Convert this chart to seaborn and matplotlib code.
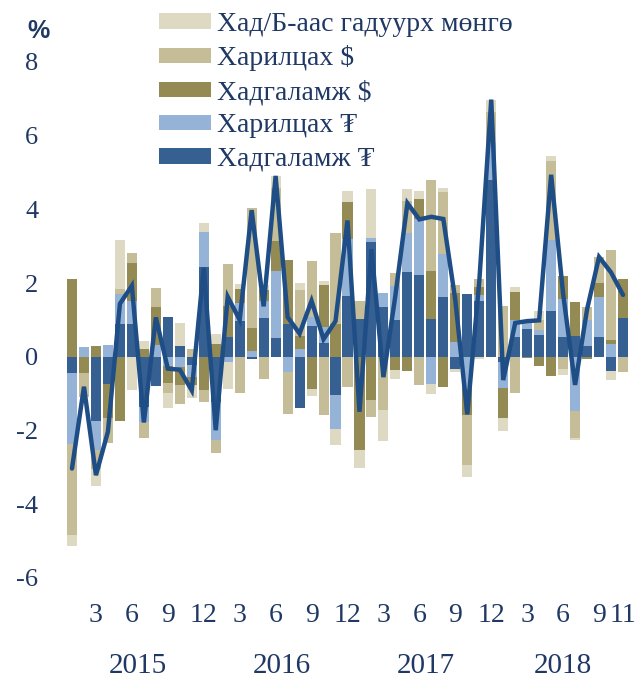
import matplotlib
matplotlib.use('Agg')
import matplotlib.pyplot as plt
import matplotlib.transforms as mtransforms
from matplotlib.patches import Patch
import numpy as np
import pandas as pd
import seaborn as sns

# Months Jan 2015 .. Nov 2018
years = [2015] * 12 + [2016] * 12 + [2017] * 12 + [2018] * 11
months = list(range(1, 13)) * 3 + list(range(1, 12))

# Contributions, percentage points
other = [-0.30, 0.00, -0.46, 0.00, 1.33, -0.90, 0.23, 0.00, -0.42, 0.63, -0.34, 0.25,
         0.27, -0.74, 0.14, 0.00, 0.15, 0.32, 0.00, 0.20, -0.21, 0.12, -0.42, 0.30,
         -0.48, 1.32, -0.86, -0.24, 0.32, 0.21, -0.27, 0.09, -0.09, -0.32, -0.07, 0.33,
         -0.36, 0.14, 0.00, 0.25, 0.14, -0.16, -0.06, 0.00, 0.00, -0.23, 0.00]
cur_usd = [-2.47, -0.63, -0.50, -0.68, 0.14, 0.28, -0.45, 0.51, -0.25, -0.51, 0.20, -0.32,
           -0.34, 1.13, -0.98, 3.25, -0.59, 1.46, -1.15, 1.24, 1.51, -1.58, 2.46, -0.81,
           0.48, -0.47, -1.43, 0.36, 0.87, -0.77, 2.49, 1.70, 0.23, -1.36, 0.21, 0.86,
           1.38, -0.98, 0.00, 0.25, 2.15, -0.32, -0.73, 0.36, 0.70, 2.44, -0.42]
dep_usd = [2.10, -0.45, 0.29, -0.93, -1.74, 1.04, 0.20, 1.04, -0.47, -0.50, -0.23, -0.90,
           0.34, 0.84, 0.39, 0.63, 0.29, 0.79, 1.74, 0.37, -0.86, 1.13, 0.90, 1.01,
           -2.53, -1.16, 0.00, -0.36, -0.38, 0.54, 1.28, -0.83, 1.31, -0.72, 0.23, 0.00,
           -0.80, 0.75, -0.04, -0.25, -0.52, 0.61, 0.92, -0.07, 0.39, 0.13, 1.04]
cur_mnt = [-1.93, 0.27, -0.80, 0.32, 0.81, 0.61, -0.39, 0.32, -0.25, -0.27, -0.33, 0.95,
           -1.04, -0.14, 0.48, 0.16, 0.46, 1.83, -0.41, 0.20, 0.25, 0.43, -0.93, 1.55,
           0.00, 0.11, 0.40, 0.90, 1.07, 1.54, -0.74, 1.15, 0.41, -0.86, 0.15, 0.98,
           -0.70, 0.47, 0.26, 0.15, 1.92, 1.04, -1.46, 0.70, 1.08, 0.34, 0.00]
dep_mnt = [-0.43, 0.00, -1.74, -0.74, 0.90, 0.90, -1.37, -0.80, 1.07, 0.30, -0.21, 2.44,
           -1.22, 0.54, 0.97, -0.06, 1.06, 0.51, 0.90, -1.38, 0.83, 0.38, -1.04, 1.65,
           1.04, 3.12, 1.34, 1.01, 2.29, 2.21, 1.04, 1.63, -0.32, 1.70, 1.52, 4.81,
           -0.15, 0.54, 0.75, 0.59, 1.25, 0.54, 0.57, 0.30, 0.54, -0.39, 1.06]

labels = ['Хад/Б-аас гадуурх мөнгө', 'Харилцах $', 'Хадгаламж $', 'Харилцах ₮', 'Хадгаламж ₮']
colors = ['#DDD9C3', '#C4BD97', '#948A54', '#95B3D7', '#376092']
line_color = '#1F4E86'
text_color = '#1F3864'

df = pd.DataFrame({'year': years, 'month': months, labels[0]: other, labels[1]: cur_usd,
                   labels[2]: dep_usd, labels[3]: cur_mnt, labels[4]: dep_mnt})
df['x'] = np.arange(len(df))
df['total'] = df[labels].sum(axis=1)

sns.set_style('white')
plt.rcParams['font.family'] = ['Liberation Serif', 'DejaVu Serif']

fig = plt.figure(figsize=(6.41, 6.84), dpi=100)
ax = fig.add_axes([66 / 641, 106 / 684, 563 / 641, 516 / 684])

# Diverging stacked bars, tenge deposits nearest the zero line
pos = np.zeros(len(df))
neg = np.zeros(len(df))
for lab, col in zip(labels[::-1], colors[::-1]):
    v = df[lab].to_numpy()
    bottom = np.where(v >= 0, pos, neg)
    ax.bar(df['x'], v, bottom=bottom, width=0.84, color=col, linewidth=0, zorder=2)
    pos = pos + np.clip(v, 0, None)
    neg = neg + np.clip(v, None, 0)

sns.lineplot(data=df, x='x', y='total', ax=ax, color=line_color, linewidth=3.2,
             zorder=5, legend=False)
for ln in ax.lines:
    ln.set_solid_joinstyle('miter')

ax.set_xlim(-0.5, 46.5)
ax.set_ylim(-6, 8)
ax.set_yticks([-6, -4, -2, 0, 2, 4, 6, 8])
ax.set_yticklabels(['-6', '-4', '-2', '0', '2', '4', '6', '8'])

tick_idx = [i for i, m in enumerate(months) if m % 3 == 0 or i == len(months) - 1]
ax.set_xticks(tick_idx)
ax.set_xticklabels([str(months[i]) for i in tick_idx])
ax.tick_params(axis='y', length=0, pad=20, labelsize=19, labelcolor=text_color)
ax.tick_params(axis='x', length=0, pad=18, labelsize=20, labelcolor=text_color)
ax.set_xlabel('')
ax.set_ylabel('')
for s in ax.spines.values():
    s.set_visible(False)

trans = mtransforms.blended_transform_factory(ax.transData, ax.transAxes)
for yr, grp in df.groupby('year'):
    ax.text(grp['x'].mean(), -0.171, str(yr), transform=trans, ha='center', va='center',
            fontsize=21, color=text_color)

fig.text(38 / 641, 1 - 31 / 684, '%', ha='center', va='center', fontsize=18,
         fontweight='bold', color=text_color, family=['Liberation Sans', 'DejaVu Sans'])

handles = [Patch(facecolor=c, edgecolor='none') for c in colors]
fig.legend(handles, labels, loc='upper left', bbox_to_anchor=(159 / 641, 1 - 12 / 684),
           frameon=False, fontsize=20, handlelength=1.87, handleheight=0.47,
           handletextpad=0.22, labelspacing=0.3, borderpad=0, borderaxespad=0,
           labelcolor=text_color)

fig.savefig('out.png', dpi=100)
